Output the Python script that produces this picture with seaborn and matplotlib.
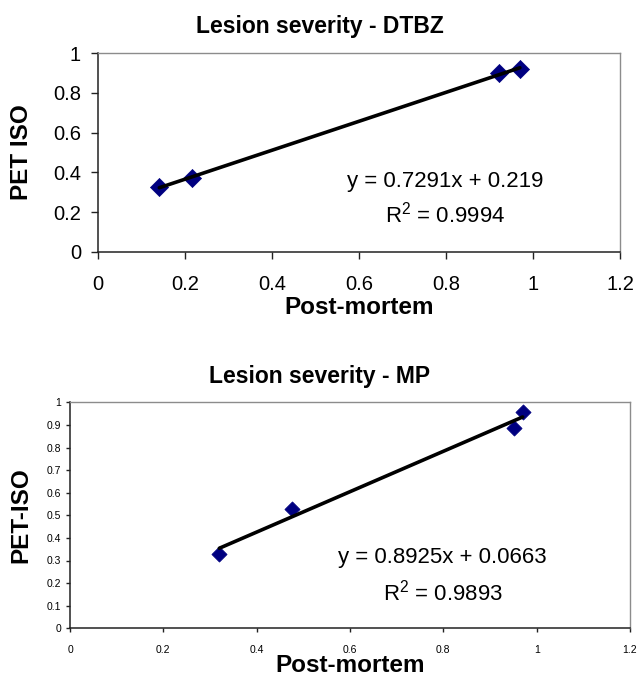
import matplotlib
matplotlib.use("Agg")
import matplotlib.pyplot as plt
import seaborn as sns
import pandas as pd

# Data
dtbz_postmortem = [0.1415, 0.216, 0.923, 0.970]
dtbz_pet_iso = [0.328, 0.370, 0.902, 0.919]
mp_postmortem = [0.320, 0.476, 0.952, 0.970]
mp_pet_iso = [0.329, 0.528, 0.888, 0.957]

top_title = "Lesion severity - DTBZ"
bottom_title = "Lesion severity - MP"
top_ylabel = "PET ISO"
bottom_ylabel = "PET-ISO"
xlabel = "Post-mortem"
top_eq = ["y = 0.7291x + 0.219", "R$^2$ = 0.9994"]
bottom_eq = ["y = 0.8925x + 0.0663", "R$^2$ = 0.9893"]
top_yticks = [0, 0.2, 0.4, 0.6, 0.8, 1]
top_yticklabels = ["0", "0.2", "0.4", "0.6", "0.8", "1"]
bottom_yticks = [0, 0.1, 0.2, 0.3, 0.4, 0.5, 0.6, 0.7, 0.8, 0.9, 1]
bottom_yticklabels = ["0", "0.1", "0.2", "0.3", "0.4", "0.5", "0.6", "0.7", "0.8", "0.9", "1"]
xticks = [0, 0.2, 0.4, 0.6, 0.8, 1, 1.2]
xticklabels = ["0", "0.2", "0.4", "0.6", "0.8", "1", "1.2"]

sns.set_style("ticks")
plt.rcParams["font.family"] = ["Liberation Sans", "DejaVu Sans"]
plt.rcParams["mathtext.fontset"] = "custom"
plt.rcParams["mathtext.rm"] = "Liberation Sans"
plt.rcParams["mathtext.it"] = "Liberation Sans"
plt.rcParams["mathtext.default"] = "regular"
plt.rcParams["text.color"] = "black"
plt.rcParams["xtick.color"] = "black"
plt.rcParams["ytick.color"] = "black"
plt.rcParams["xtick.labelcolor"] = "black"
plt.rcParams["ytick.labelcolor"] = "black"

W, H = 639, 679
fig = plt.figure(figsize=(W / 100, H / 100), dpi=100)
fig.patch.set_facecolor("white")

def px_rect(l, t, r, b):
    return [l / W, 1 - b / H, (r - l) / W, (b - t) / H]

ax1 = fig.add_axes(px_rect(97.7, 53.3, 620, 251.7))
ax2 = fig.add_axes(px_rect(70, 402.3, 630, 628.3))

df1 = pd.DataFrame({"x": dtbz_postmortem, "y": dtbz_pet_iso})
df2 = pd.DataFrame({"x": mp_postmortem, "y": mp_pet_iso})

navy = "#000080"
for ax, df, ms in ((ax1, df1, 85), (ax2, df2, 60)):
    sns.regplot(data=df, x="x", y="y", ax=ax, ci=None, truncate=True,
                marker="D",
                scatter_kws=dict(s=ms, color=navy, edgecolor=navy, linewidths=0.5, alpha=1, zorder=2),
                line_kws=dict(color="black", lw=2.6, zorder=3))
    ax.set_xlim(0, 1.2)
    ax.set_ylim(0, 1)
    ax.set_xlabel("")
    ax.set_ylabel("")
    for side in ("top", "right"):
        ax.spines[side].set_color("#8c8c8c")
        ax.spines[side].set_linewidth(1.0)
    for side in ("left", "bottom"):
        ax.spines[side].set_color("#222222")
        ax.spines[side].set_linewidth(1.1)
    ax.set_facecolor("white")

ax1.set_xticks(xticks)
ax1.set_xticklabels(xticklabels)
ax1.set_yticks(top_yticks)
ax1.set_yticklabels(top_yticklabels)
ax1.tick_params(axis="both", labelsize=14.5, length=5, width=1, color="#222222")
ax1.tick_params(axis="x", pad=12)
ax1.tick_params(axis="y", pad=7)

ax2.set_xticks(xticks)
ax2.set_xticklabels(xticklabels)
ax2.set_yticks(bottom_yticks)
ax2.set_yticklabels(bottom_yticklabels)
ax2.tick_params(axis="both", labelsize=7.5, length=3, width=1, color="#222222")
ax2.tick_params(axis="x", pad=9)
ax2.tick_params(axis="y", pad=3.4)

def fy(py):
    return 1 - py / H

# titles (centered on figure)
fig.text(0.5, fy(33), top_title, ha="center", va="baseline", fontsize=16.5, fontweight="bold")
fig.text(0.5, fy(383), bottom_title, ha="center", va="baseline", fontsize=16.5, fontweight="bold")

# x labels
fig.text((97.7 + 620) / 2 / W, fy(314), xlabel, ha="center", va="baseline", fontsize=17.5, fontweight="bold")
fig.text((70 + 630) / 2 / W, fy(672), xlabel, ha="center", va="baseline", fontsize=17.5, fontweight="bold")

# y labels
fig.text(22 / W, fy(152.5), top_ylabel, ha="center", va="center", rotation=90, fontsize=17.5, fontweight="bold")
fig.text(21 / W, fy(515), bottom_ylabel, ha="center", va="center", rotation=90, fontsize=17.5, fontweight="bold")

# equations
fig.text(445 / W, fy(187), top_eq[0], ha="center", va="baseline", fontsize=16)
fig.text(445 / W, fy(223), top_eq[1], ha="center", va="baseline", fontsize=16)
fig.text(442.5 / W, fy(563), bottom_eq[0], ha="center", va="baseline", fontsize=16)
fig.text(442.5 / W, fy(600), bottom_eq[1], ha="center", va="baseline", fontsize=16)

fig.savefig("out.png", dpi=100, facecolor="white")
